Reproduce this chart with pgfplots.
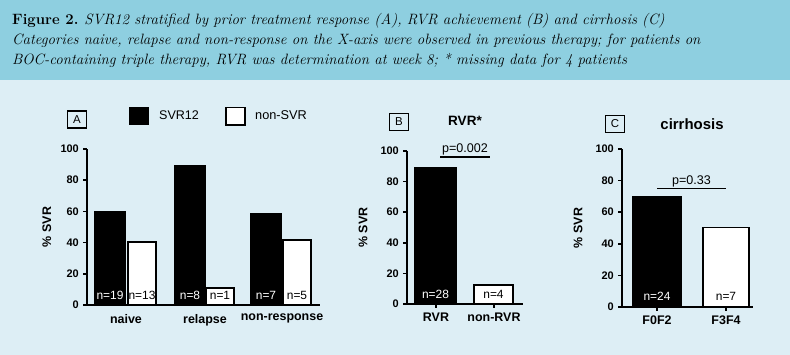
\documentclass[border=0pt]{standalone}
\usepackage{fontspec}
\usepackage{pgfplots}
\pgfplotsset{compat=1.18}
\newfontfamily\arial{Liberation Sans}
\definecolor{hdr}{HTML}{8ECFE0}
\definecolor{bdy}{HTML}{DDEEF5}
\pgfplotsset{
  panel/.style={
    scale only axis, axis lines=left, axis line style={line width=2bp,-},
    enlargelimits=false, clip=false,
    ymin=0, ymax=100, ytick={0,20,40,60,80,100},
    tick style={line width=1.6bp, black}, major tick length=4bp, tick align=outside,
    /pgf/number format/assume math mode=true,
    yticklabel style={font=\arial\bfseries\fontsize{11}{12}\selectfont, xshift=1bp},
    xticklabel style={font=\arial\bfseries\fontsize{12.5}{14}\selectfont},
    ylabel={\arial\bfseries\fontsize{12.5}{14}\selectfont\% SVR},
  },
  blackbar/.style={ybar, bar shift=0pt, fill=black, draw=black, line width=1.8bp},
  whitebar/.style={ybar, bar shift=0pt, fill=white, draw=black, line width=1.8bp},
}
\tikzset{
  nlab/.style={font=\arial\fontsize{12}{12}\selectfont, anchor=base},
  boxlab/.style={draw=black, line width=1.3bp, font=\arial\fontsize{11.5}{12}\selectfont, inner sep=1bp, minimum width=19bp, minimum height=17bp},
  ptext/.style={font=\arial\fontsize{12.6}{13}\selectfont, anchor=base},
}
\begin{document}
\begin{tikzpicture}
\fill[bdy] (0,0) rectangle (790bp,355bp);
\fill[hdr] (0,275bp) rectangle (790bp,355bp);
\fontsize{15}{20}\selectfont
\node[anchor=base west, inner sep=0] at (12bp,330bp) {\textbf{Figure 2.} \textit{SVR12 stratified by prior treatment response (A), RVR achievement (B) and cirrhosis (C)}};
\node[anchor=base west, inner sep=0] at (12bp,310bp) {\textit{Categories naive, relapse and non-response on the X-axis were observed in previous therapy; for patients on}};
\node[anchor=base west, inner sep=0] at (12bp,290bp) {\textit{BOC-containing triple therapy, RVR was determination at week 8; * missing data for 4 patients}};

% Panel A
\begin{axis}[panel, at={(87bp,50bp)}, width=233bp, height=156bp,
  xmin=87, xmax=320, xtick={126,205,282}, xticklabels={naive,relapse,non-response},
  major x tick style={draw=none},
  ylabel style={at={(axis description cs:-0.172,0.5)}, anchor=center}]
\addplot[blackbar, bar width=30] coordinates {(110,59.4) (190,88.9) (266,58.3)};
\addplot[whitebar, bar width=28] coordinates {(142,40.6) (220,11.1) (297,41.7)};
\node[nlab, white] at (axis cs:110,3.8) {n=19};
\node[nlab] at (axis cs:142,3.8) {n=13};
\node[nlab, white] at (axis cs:190,3.8) {n=8};
\node[nlab] at (axis cs:220,3.8) {n=1};
\node[nlab, white] at (axis cs:266,3.8) {n=7};
\node[nlab] at (axis cs:297,3.8) {n=5};
\node[boxlab] at (axis cs:77,119) {A};
\fill[black] (axis cs:129,115.5) rectangle (axis cs:149,127);
\node[anchor=west, font=\arial\fontsize{12.6}{14}\selectfont] at (axis cs:154,121.5) {SVR12};
\draw[black, line width=1.5bp, fill=white] (axis cs:226,115.5) rectangle (axis cs:245,126.5);
\node[anchor=west, font=\arial\fontsize{12.8}{14}\selectfont] at (axis cs:250,121.5) {non-SVR};
\end{axis}

% Panel B
\begin{axis}[panel, at={(407bp,51bp)}, width=116bp, height=153bp,
  xmin=407, xmax=523, xtick={436,494}, xticklabels={RVR,non-RVR},
  ylabel style={at={(axis description cs:-0.379,0.5)}, anchor=center}]
\addplot[blackbar, bar width=41] coordinates {(435.5,89)};
\addplot[whitebar, bar width=39] coordinates {(493.5,12.4)};
\node[nlab, white] at (axis cs:435.5,3.8) {n=28};
\node[nlab] at (axis cs:493.5,3.8) {n=4};
\draw[line width=1.8bp] (axis cs:440,96) -- (axis cs:490,96);
\node[ptext] at (axis cs:465,98.8) {p=0.002};
\node[boxlab] at (axis cs:399,119) {B};
\node[font=\arial\bfseries\fontsize{13.6}{15}\selectfont] at (axis cs:465,120) {RVR*};
\end{axis}

% Panel C
\begin{axis}[panel, at={(622bp,48bp)}, width=131bp, height=158bp,
  xmin=622, xmax=753, xtick={657,726}, xticklabels={F0F2,F3F4},
  ylabel style={at={(axis description cs:-0.336,0.5)}, anchor=center}]
\addplot[blackbar, bar width=48] coordinates {(657,69.6)};
\addplot[whitebar, bar width=46] coordinates {(726,50.3)};
\node[nlab, white] at (axis cs:657,3.8) {n=24};
\node[nlab] at (axis cs:726,3.8) {n=7};
\draw[line width=1.8bp] (axis cs:657,75) -- (axis cs:726,75);
\node[ptext] at (axis cs:691.5,77.8) {p=0.33};
\node[boxlab] at (axis cs:615,116) {C};
\node[font=\arial\bfseries\fontsize{15}{16}\selectfont] at (axis cs:692,116) {cirrhosis};
\end{axis}
\end{tikzpicture}
\end{document}
